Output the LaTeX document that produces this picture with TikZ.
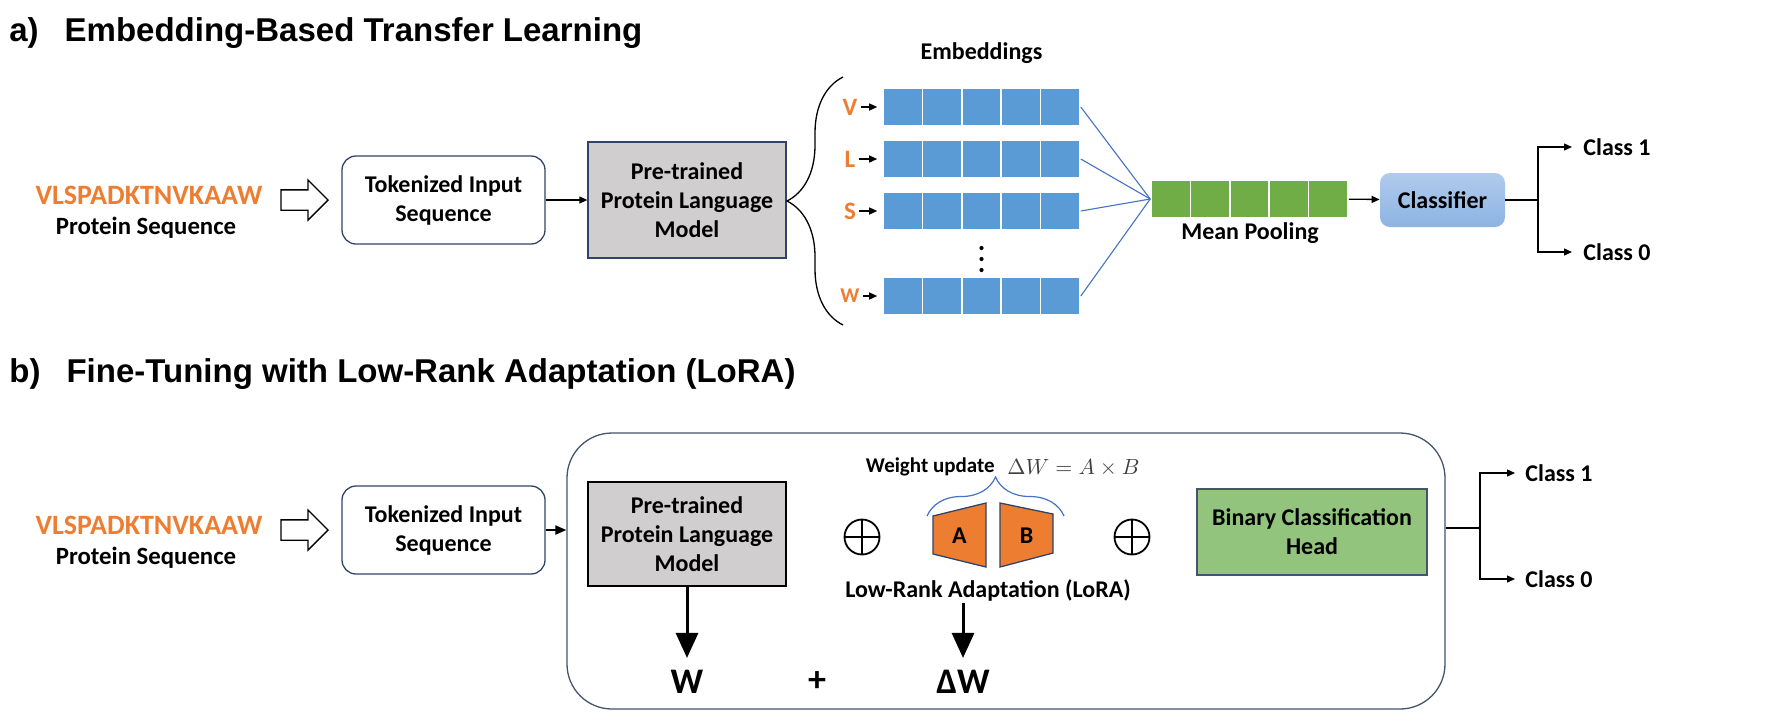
\documentclass[tikz,border=0pt]{standalone}
\usepackage{fontspec}
\setmainfont{Carlito}
\newfontfamily\headfont{Liberation Sans}
\usetikzlibrary{arrows.meta,shapes.arrows,decorations.pathreplacing}
\definecolor{seqorange}{HTML}{ED7D31}
\definecolor{embblue}{HTML}{5B9BD5}
\definecolor{poolgreen}{HTML}{70AD47}
\definecolor{linkblue}{HTML}{4472C4}
\definecolor{plmgray}{HTML}{D0CECE}
\definecolor{headgreen}{HTML}{93C47D}
\definecolor{boxnavy}{HTML}{2F4468}
\definecolor{frameslate}{HTML}{44546A}
\definecolor{clftop}{HTML}{B0CBEC}
\definecolor{clfbot}{HTML}{8DB3E2}

\begin{document}
\begin{tikzpicture}[x=5pt,y=5pt,
	txt/.style={font=\bfseries\fontsize{12}{14.5}\selectfont, align=center},
	seqtxt/.style={font=\bfseries\fontsize{14}{16}\selectfont, text=seqorange},
	title/.style={anchor=base west, font=\headfont\bfseries\fontsize{16.5}{20}\selectfont},
	bigtxt/.style={font=\bfseries\fontsize{18}{20}\selectfont},
	hollow/.style={single arrow, draw=black, fill=white, line width=0.65pt, inner xsep=0pt, inner ysep=4.75pt, single arrow head extend=5pt, minimum height=23.5pt},
	tokbox/.style={txt, draw=boxnavy, line width=0.65pt, rounded corners=7pt, minimum width=101.5pt, minimum height=44pt},
	plmbox/.style={txt, draw=boxnavy, fill=plmgray, line width=0.65pt, minimum width=99pt},
	embcell/.style={fill=embblue, draw=white, line width=0.8pt, minimum width=19.7pt, minimum height=18.5pt},
	poolcell/.style={fill=poolgreen, draw=white, line width=0.8pt, minimum width=19.7pt, minimum height=18.5pt},
	clfbox/.style={txt, top color=clftop, bottom color=clfbot, rounded corners=5pt, minimum width=62.5pt, minimum height=27pt},
	headbox/.style={txt, draw=frameslate, fill=headgreen, line width=0.65pt, minimum width=115pt, minimum height=43pt},
	bigbox/.style={draw=frameslate, line width=0.65pt, rounded corners=22.5pt, minimum width=439pt, minimum height=138pt},
	oplus/.style={circle, draw=black, line width=0.9pt, minimum size=17.5pt, path picture={\draw[line width=0.9pt] (path picture bounding box.north) -- (path picture bounding box.south) (path picture bounding box.west) -- (path picture bounding box.east);}},
	lorafill/.style={fill=seqorange, draw=boxnavy, line width=0.65pt},
	wire/.style={black, line width=0.65pt},
	linka/.style={wire, -{Triangle[length=4pt,width=3.5pt]}},
	linkc/.style={black, line width=1pt, -{Triangle[length=5.5pt,width=4.5pt]}},
	poolln/.style={linkblue, line width=0.55pt},
	fat/.style={black, line width=1.5pt, -{Triangle[length=12.5pt,width=11pt]}}]
				\tikzstyle{every node}+=[inner sep=0pt]
				\useasboundingbox (0,0) rectangle (177.6,-72);
				\node[title] (ta) at (0.9,-4.1) {a)\hspace{13pt}Embedding-Based Transfer Learning};
				\node[seqtxt] (seqa) at (14.9,-19.5) {VLSPADKTNVKAAW};
				\node[txt, font=\bfseries\fontsize{12.4}{14.5}\selectfont] (prota) at (14.6,-22.8) {Protein Sequence};
				\node[hollow] (ha) at (29.95,-20) {};
				\node[tokbox] (toka) at (44.35,-20) {Tokenized Input\\Sequence};
				\node[plmbox, minimum height=58pt] (pta) at (68.7,-20) {Pre-trained\\Protein Language\\Model};
				\draw[linka] (toka) -- (pta);
				\draw[wire, decorate, decoration={brace, amplitude=28pt}] (84.3,-32.5) -- (84.3,-7.7);
				\node[txt] (embl) at (98.15,-5.3) {Embeddings};
				\foreach \c in {1,...,5}
					\node[poolcell] (p\c) at ({115.1+1.97+3.94*(\c-1)},-19.9) {};
				\foreach \r/\y/\t/\s in {1/-10.7/V/12.5, 2/-15.9/L/12.5, 3/-21.1/S/12.5, 4/-29.6/W/10.5} {
					\foreach \c in {1,...,5}
						\node[embcell] (e\r-\c) at ({88.3+1.97+3.94*(\c-1)},\y) {};
					\node[txt, text=seqorange, font=\bfseries\fontsize{\s}{14}\selectfont] (t\r) at (85,\y) {\t};
					\draw[linka, shorten <=1.5pt, shorten >=2.5pt] (t\r) -- (e\r-1);
					\draw[poolln] (e\r-5.east) -- (p1.west);
				}
				\foreach \d in {24.8,25.9,27.0}
					\fill (98.15,-\d) circle (0.21);
				\node[txt] (mp) at (125,-23.3) {Mean Pooling};
				\node[clfbox] (clf) at (144.25,-20) {Classifier};
				\draw[linka] (p5) -- (clf);
				\coordinate (ja) at (153.8,-20);
				\node[txt, anchor=west] (c1a) at (158.3,-14.7) {Class 1};
				\node[txt, anchor=west] (c0a) at (158.3,-25.2) {Class 0};
				\draw[wire] (clf) -- (ja);
				\draw[linka, shorten >=5.5pt] (ja) |- (c1a);
				\draw[linka, shorten >=5.5pt] (ja) |- (c0a);
				\node[title] (tb) at (0.9,-38.2) {b)\hspace{13pt}Fine-Tuning with Low-Rank Adaptation (LoRA)};
				\node[seqtxt] (seqb) at (14.9,-52.5) {VLSPADKTNVKAAW};
				\node[txt, font=\bfseries\fontsize{12.4}{14.5}\selectfont] (protb) at (14.6,-55.8) {Protein Sequence};
				\node[hollow] (hb) at (29.95,-53) {};
				\node[tokbox] (tokb) at (44.35,-53) {Tokenized Input\\Sequence};
				\node[bigbox] (ft) at (100.6,-57.1) {};
				\draw[linkc] (tokb.east) -- (tokb.east -| ft.west);
				\node[plmbox, draw=black, minimum height=52pt] (ptb) at (68.7,-53.4) {Pre-trained\\Protein Language\\Model};
				\node[oplus] (op1) at (86.2,-53.7) {};
				\node[oplus] (op2) at (113.2,-53.7) {};
				\filldraw[lorafill] (93.3,-51.6) -- (98.6,-50.3) -- (98.6,-56.7) -- (93.3,-55.4) -- cycle;
				\filldraw[lorafill] (100,-50.3) -- (105.3,-51.4) -- (105.3,-55.3) -- (100,-56.7) -- cycle;
				\node[txt] (la) at (95.95,-53.6) {A};
				\node[txt] (lb) at (102.65,-53.6) {B};
				\draw[linkblue, line width=0.6pt, decorate, decoration={brace, amplitude=19.5pt}] (92.7,-51.6) -- (106.4,-51.6);
				\node[txt, anchor=east, font=\bfseries\fontsize{10.5}{12}\selectfont] (wu) at (99.5,-46.7) {Weight update};
				\node[anchor=west, text=black!75, font=\fontsize{11}{13}\selectfont] (dwm) at (100.7,-46.8) {$\Delta W = A \times B$};
				\node[txt] (lora) at (98.8,-59) {Low-Rank Adaptation (LoRA)};
				\node[headbox] (head) at (131.2,-53.2) {Binary Classification\\Head};
				\node[bigtxt] (wl) at (68.7,-68.2) {W};
				\node[bigtxt] (pl) at (81.7,-68.2) {+};
				\node[bigtxt] (dwl) at (96.3,-68.2) {ΔW};
				\draw[fat, shorten >=6pt] (ptb) -- (wl);
				\draw[fat, shorten <=1pt, shorten >=6pt] (dwl.north |- lora.south) -- (dwl);
				\coordinate (jb) at (148,-52.8);
				\node[txt, anchor=west] (c1b) at (152.5,-47.3) {Class 1};
				\node[txt, anchor=west] (c0b) at (152.5,-57.9) {Class 0};
				\draw[wire] (jb -| ft.east) -- (jb);
				\draw[linka, shorten >=5pt] (jb) |- (c1b);
				\draw[linka, shorten >=5pt] (jb) |- (c0b);
\end{tikzpicture}
\end{document}
